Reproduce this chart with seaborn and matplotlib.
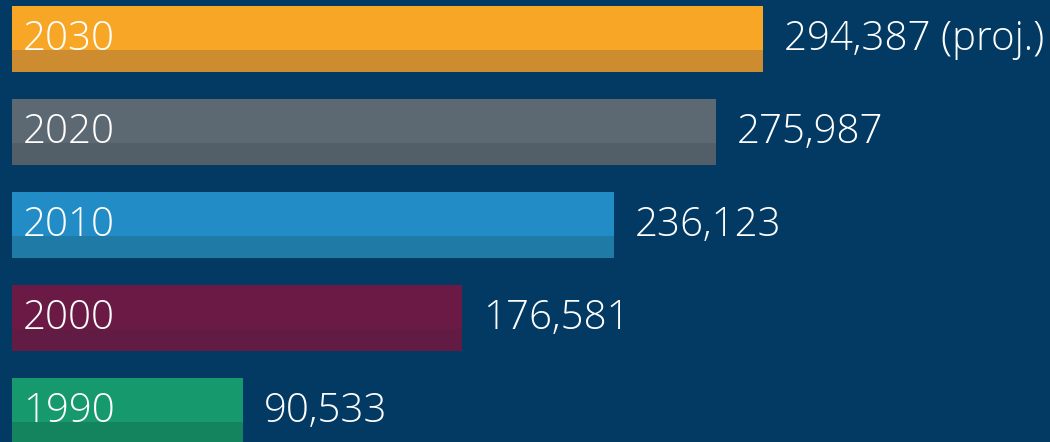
import matplotlib
matplotlib.use("Agg")
import matplotlib.pyplot as plt
from matplotlib.patches import Rectangle
import seaborn as sns
import pandas as pd

years = ["2030", "2020", "2010", "2000", "1990"]
values = [294387, 275987, 236123, 176581, 90533]
value_labels = ["294,387 (proj.)", "275,987", "236,123", "176,581", "90,533"]
colors = ["#F7A725", "#5C6872", "#218CC6", "#6A1A45", "#16996D"]
dark_colors = ["#CE8C31", "#525E68", "#1F7BA6", "#621C43", "#14845F"]

BG = "#023A63"
sns.set_theme(style="white")
plt.rcParams["font.family"] = ["Open Sans", "DejaVu Sans"]

df = pd.DataFrame({"year": years, "value": values})

fig = plt.figure(figsize=(10.5, 4.42), dpi=100, facecolor=BG)
ax = fig.add_axes([12 / 1050, 0, 1 - 12 / 1050, 1])
ax.set_facecolor(BG)

sns.barplot(data=df, x="value", y="year", hue="year", palette=colors,
            order=years, hue_order=years, orient="h", width=0.71,
            legend=False, ax=ax, saturation=1, linewidth=0, edgecolor="none")

for patch, dc in zip(ax.patches, dark_colors):
    patch.set_linewidth(0)
    x0, y0 = patch.get_x(), patch.get_y()
    w, h = patch.get_width(), patch.get_height()
    ax.add_patch(Rectangle((x0, y0 + h * 2 / 3), w, h / 3, facecolor=dc,
                           edgecolor="none", linewidth=0,
                           zorder=patch.get_zorder() + 0.1))

for i, (yr, v, lab) in enumerate(zip(years, values, value_labels)):
    ax.annotate(yr, xy=(0, i), xytext=(11, -11), textcoords="offset pixels",
                ha="left", va="baseline", color="white", fontsize=29,
                fontweight="light", zorder=5)
    ax.annotate(lab, xy=(v, i), xytext=(21, -11), textcoords="offset pixels",
                ha="left", va="baseline", color="white", fontsize=29,
                fontweight="light", zorder=5)

ax.set_xlim(0, 407000)
ax.set_ylim(4.333, -0.419)
ax.set_xlabel("")
ax.set_ylabel("")
ax.set_xticks([])
ax.set_yticks([])
for s in ax.spines.values():
    s.set_visible(False)

fig.savefig("out.png", dpi=100, facecolor=BG)
